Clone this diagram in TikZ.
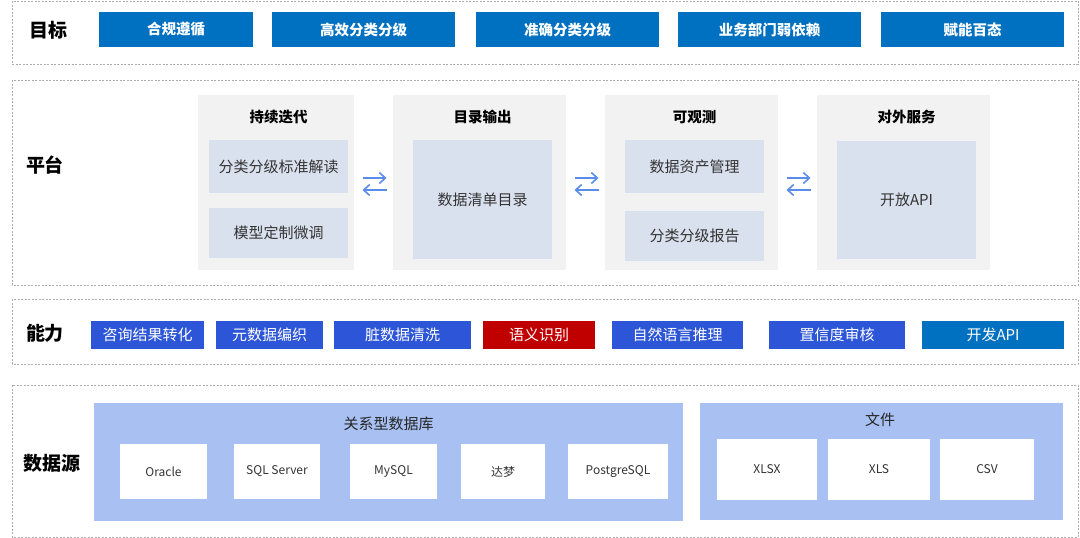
\documentclass[tikz,border=0pt]{standalone}
\usepackage{fontspec}
\setmainfont{Noto Sans CJK SC}
\usepackage{tikz}
\usetikzlibrary{arrows.meta,positioning,calc}
\definecolor{goalblue}{RGB}{0,112,192}
\definecolor{capblue}{RGB}{45,85,215}
\definecolor{capred}{RGB}{192,0,0}
\definecolor{platgray}{RGB}{242,242,242}
\definecolor{innerblue}{RGB}{218,225,238}
\definecolor{srcblue}{RGB}{168,192,242}
\definecolor{flowblue}{RGB}{90,140,235}
\tikzset{
  frame/.style={draw=gray!65, line width=0.7pt, dash pattern=on 2pt off 1.5pt},
  rowlabel/.style={font=\fontsize{19}{22}\selectfont\bfseries},
  goal/.style={rectangle, fill=goalblue, inner sep=0pt, minimum height=35pt,
               text=white, font=\fontsize{14.5}{17}\selectfont\bfseries},
  panel/.style={rectangle, fill=platgray, inner sep=0pt, minimum height=175pt},
  ptitle/.style={font=\fontsize{14.5}{17}\selectfont\bfseries},
  inner/.style={rectangle, fill=innerblue, inner sep=0pt, minimum width=139pt,
                font=\fontsize{15}{18}\selectfont, text=black!80},
  cap/.style={rectangle, fill=#1, inner sep=0pt, minimum height=28pt,
              text=white, font=\fontsize{15}{18}\selectfont},
  srcpanel/.style={rectangle, fill=srcblue, inner sep=0pt},
  stitle/.style={font=\fontsize{15}{18}\selectfont, text=black!85},
  src/.style={rectangle, fill=white, inner sep=0pt,
              font=\fontsize{12}{14}\selectfont, text=black!80},
  flow/.style={-{Straight Barb[length=6pt,width=11pt,line width=1.6pt]}, line width=1.8pt, flowblue},
}
\begin{document}
\begin{tikzpicture}[x=1pt,y=-1pt]
  \useasboundingbox (0,0) rectangle (1080,538);

  % row frames
  \draw[frame] (12,1) rectangle (1078,64);
  \draw[frame] (12,80) rectangle (1078,285);
  \draw[frame] (12,299) rectangle (1078,364);
  \draw[frame] (12,385) rectangle (1078,537);

  % Goals
  \node[rowlabel] (lgoal) at (48,30) {目标};
  \node[goal, minimum width=154pt] (g1) at (176,29.5) {合规遵循};
  \node[goal, minimum width=183pt] (g2) at (363.5,29.5) {高效分类分级};
  \node[goal, minimum width=183pt] (g3) at (567.5,29.5) {准确分类分级};
  \node[goal, minimum width=183pt] (g4) at (769.5,29.5) {业务部门弱依赖};
  \node[goal, minimum width=183pt] (g5) at (972.5,29.5) {赋能百态};

  % Platform
  \node[rowlabel] (lplat) at (45,165) {平台};
  \node[panel, minimum width=156pt] (p1) at (276,182.5) {};
  \node[panel, minimum width=173pt] (p2) at (479.5,182.5) {};
  \node[panel, minimum width=173pt] (p3) at (691.5,182.5) {};
  \node[panel, minimum width=173pt] (p4) at (903.5,182.5) {};
  \node[ptitle] (t1) at (278.5,117) {持续迭代};
  \node[ptitle] (t2) at (482.5,117) {目录输出};
  \node[ptitle] (t3) at (694.5,117) {可观测};
  \node[ptitle] (t4) at (906.5,117) {对外服务};
  \node[inner, minimum height=53pt] (i1a) at (278.5,166.5) {分类分级标准解读};
  \node[inner, minimum height=50pt] (i1b) at (278.5,233) {模型定制微调};
  \node[inner, minimum height=119pt] (i2) at (482.5,199.5) {数据清单目录};
  \node[inner, minimum height=53pt] (i3a) at (694.5,166.5) {数据资产管理};
  \node[inner, minimum height=50pt] (i3b) at (694.5,236) {分类分级报告};
  \node[inner, minimum height=118pt] (i4) at (906.5,200) {开放API};

  % exchange arrows between panels
  \foreach \a/\b in {p1/p2, p2/p3, p3/p4} {
    \coordinate (m\a) at ($(\a.east)!0.5!(\b.west)+(1,1.5)$);
    \draw[flow] ([shift={(-12,-6)}]m\a) -- ([shift={(12,-6)}]m\a);
    \draw[flow] ([shift={(12,6)}]m\a) -- ([shift={(-12,6)}]m\a);
  }

  % Capabilities
  \node[rowlabel] (lcap) at (45,333) {能力};
  \node[cap=capblue, minimum width=113pt] (c1) at (147.5,335) {咨询结果转化};
  \node[cap=capblue, minimum width=107pt] (c2) at (269.5,335) {元数据编织};
  \node[cap=capblue, minimum width=137pt] (c3) at (402.5,335) {脏数据清洗};
  \node[cap=capred, minimum width=112pt] (c4) at (539,335) {语义识别};
  \node[cap=capblue, minimum width=131pt] (c5) at (677.5,335) {自然语言推理};
  \node[cap=capblue, minimum width=136pt] (c6) at (837,335) {置信度审核};
  \node[cap=goalblue, minimum width=142pt] (c7) at (993,335) {开发API};

  % Data sources
  \node[rowlabel] (lsrc) at (52,463) {数据源};
  \node[srcpanel, minimum width=589pt, minimum height=118pt] (db) at (388.5,462) {};
  \node[stitle] (tdb) at (388.5,424) {关系型数据库};
  \node[src, minimum width=87pt, minimum height=55pt] (s1) at (163.5,471.5) {Oracle};
  \node[src, minimum width=86pt, minimum height=55pt] (s2) at (277,471.5) {SQL Server};
  \node[src, minimum width=87pt, minimum height=55pt] (s3) at (393.5,471.5) {MySQL};
  \node[src, minimum width=84pt, minimum height=55pt] (s4) at (503,471.5) {达梦};
  \node[src, minimum width=100pt, minimum height=55pt] (s5) at (618,471.5) {PostgreSQL};
  \node[srcpanel, minimum width=363pt, minimum height=117pt] (fs) at (881.5,461.5) {};
  \node[stitle] (tfs) at (880,420) {文件};
  \node[src, minimum width=100pt, minimum height=61pt] (f1) at (767,469.5) {XLSX};
  \node[src, minimum width=102pt, minimum height=61pt] (f2) at (879,469.5) {XLS};
  \node[src, minimum width=94pt, minimum height=61pt] (f3) at (987,469.5) {CSV};
\end{tikzpicture}
\end{document}
